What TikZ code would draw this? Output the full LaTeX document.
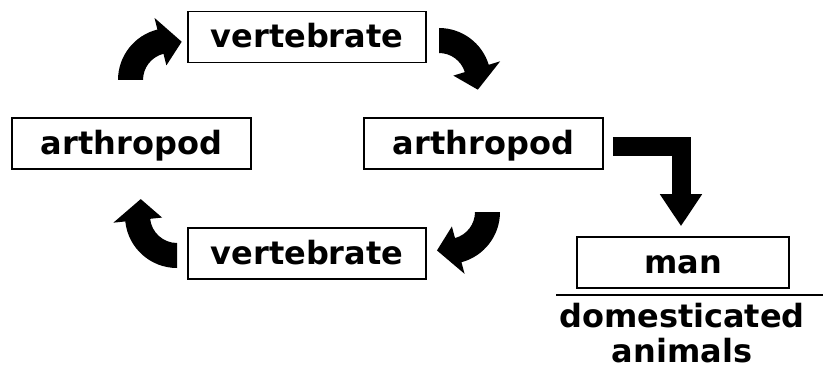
\documentclass[tikz,border=0pt]{standalone}
\usepackage{fontspec}
\newfontfamily\labelfont{DejaVu Sans}
\usetikzlibrary{arrows.meta}

% Curved block arrow turning clockwise round a centre:
% #1 centre, #2 angle of the tail, #3 angle where the head starts
\newcommand\cyclearrow[3]{%
  \begin{scope}[shift={#1}]
    \pgfmathsetmacro\tipangle{#3-31}
    \fill (#2:52pt) arc[start angle=#2, end angle=#3, radius=52pt]
      -- (#3:64pt) -- (\tipangle:40pt) -- (#3:15pt) -- (#3:27pt)
      arc[start angle=#3, end angle=#2, radius=27pt] -- cycle;
  \end{scope}}

\begin{document}
\begin{tikzpicture}[x=1pt, y=1pt,
  labeltext/.style={font=\labelfont\bfseries\fontsize{32}{35}\selectfont},
  box/.style={labeltext, draw, line width=1.6pt, inner sep=0pt,
    text height=22pt, text depth=0pt, minimum height=51pt}]
  \useasboundingbox (0,0) rectangle (823,381);

  % the boxes of the cycle
  \node[box, minimum width=238pt] (vtop)  at (307,344)     {vertebrate};
  \node[box, minimum width=239pt] (arthR) at (483.5,237.5) {arthropod};
  \node[box, minimum width=238pt] (vbot)  at (307,127.5)   {vertebrate};
  \node[box, minimum width=239pt] (arthL) at (131.5,237.5) {arthropod};

  % the hosts outside the cycle
  \node[box, minimum width=212pt] (man) at (683,118.5) {man};
  \coordinate (domleft)  at (556,86);
  \coordinate (domright) at (823,86);
  \draw[line width=1.6pt] (domleft) -- (domright);
  \node[labeltext, align=center, anchor=base] (dom) at (682,19)
    {domesticated\\animals};

  % curved arrows of the cycle
  \cyclearrow{(170,301)}{180}{104}
  \cyclearrow{(439,301)}{90}{17}
  \cyclearrow{(448,169)}{0}{-75}
  \cyclearrow{(177,165)}{-90}{-174}

  % bent arrow from the cycle down to man
  \draw[line width=19pt, line join=miter, -{Triangle[width=40pt,length=32pt]}]
    ([xshift=9pt,yshift=-3pt]arthR.east) -| ([xshift=-2pt,yshift=10pt]man.north);
\end{tikzpicture}
\end{document}
